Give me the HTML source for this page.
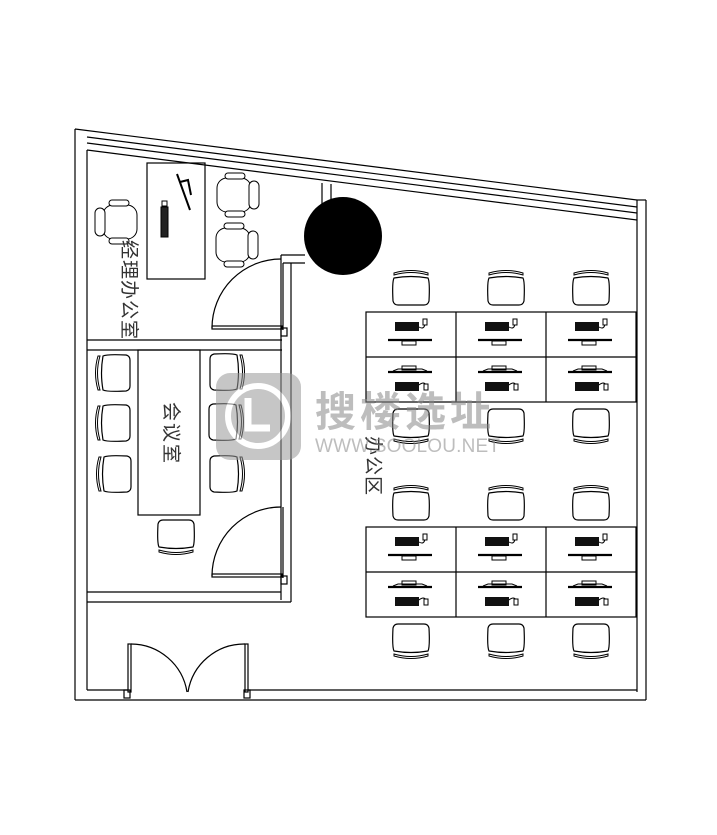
<!DOCTYPE html>
<html><head><meta charset="utf-8"><style>
html,body{margin:0;padding:0;background:#fff;}
svg{display:block;}
text{font-family:"Liberation Sans","Noto Sans CJK SC",sans-serif;}
</style></head><body>
<svg width="717" height="835" viewBox="0 0 717 835" xmlns="http://www.w3.org/2000/svg">
<defs>
<g id="chT">
<path d="M-17 -12 Q0 -15 17 -12 Q19 -8 18 11 Q17 15 13 15 L-13 15 Q-17 15 -18 11 Q-19 -8 -17 -12 Z" fill="#fff" stroke="#000" stroke-width="1.2"/>
<path d="M-17 -17 Q0 -22 17 -17 L17 -15 Q0 -20 -17 -15 Z" fill="#fff" stroke="#000" stroke-width="1"/>
</g>
<g id="chB">
<use href="#chT" transform="scale(1,-1)"/>
</g>
<g id="chL">
<use href="#chT" transform="rotate(-90)"/>
</g>
<g id="chR">
<use href="#chT" transform="rotate(90)"/>
</g>
<g id="pcA">
<rect x="-15" y="-6" width="24" height="9" fill="#111"/>
<path d="M9 -1 Q14 2 15 -4" fill="none" stroke="#000"/>
<rect x="13" y="-9" width="4" height="6" fill="#fff" stroke="#000"/>
<line x1="-22" y1="12" x2="22" y2="12" stroke="#000" stroke-width="2.2"/>
<rect x="-8" y="13" width="14" height="4" fill="#fff" stroke="#000"/>
</g>
<g id="pcB">
<rect x="-8" y="-15" width="14" height="4" fill="#fff" stroke="#000"/>
<path d="M-22 -9 L22 -9" stroke="#000" stroke-width="2.2"/>
<path d="M-17 -10 L-12 -12 L12 -12 L17 -10" fill="none" stroke="#000"/>
<rect x="-15" y="1" width="24" height="9" fill="#111"/>
<path d="M9 4 Q14 0 16 4" fill="none" stroke="#000"/>
<rect x="14" y="3" width="4" height="6" fill="#fff" stroke="#000"/>
</g>
<g id="armch">
<rect x="-20" y="-17" width="34" height="34" rx="10" fill="#fff" stroke="#000"/>
<rect x="-12" y="-22" width="20" height="6" rx="3" fill="#fff" stroke="#000"/>
<rect x="-12" y="16" width="20" height="6" rx="3" fill="#fff" stroke="#000"/>
<rect x="12" y="-14" width="10" height="28" rx="5" fill="#fff" stroke="#000"/>
</g>
</defs>
<g fill="none" stroke="#000" stroke-width="1.2">
<!-- outer walls -->
<line x1="75" y1="129" x2="75" y2="700"/>
<line x1="87" y1="150" x2="87" y2="690"/>
<line x1="75" y1="129" x2="637" y2="200"/>
<line x1="87" y1="137" x2="637" y2="207"/>
<line x1="87" y1="143" x2="637" y2="213"/>
<line x1="87" y1="150" x2="637" y2="220"/>
<line x1="637" y1="200" x2="637" y2="692"/>
<line x1="646" y1="200" x2="646" y2="700"/>
<line x1="637" y1="200" x2="646" y2="200"/>
<line x1="75" y1="700" x2="646" y2="700"/>
<line x1="87" y1="690" x2="128" y2="690"/>
<line x1="248" y1="690" x2="637" y2="690"/>
<!-- pillar stub -->
<line x1="322" y1="183" x2="322" y2="205"/>
<line x1="331" y1="184" x2="331" y2="205"/>
<!-- manager room -->
<line x1="87" y1="340" x2="282" y2="340"/>
<line x1="87" y1="350" x2="282" y2="350"/>
<line x1="281" y1="255" x2="305" y2="255"/>
<line x1="283" y1="263" x2="305" y2="263"/>
<line x1="281" y1="255" x2="281" y2="600"/>
<line x1="291" y1="263" x2="291" y2="602"/>
<line x1="283" y1="263" x2="283" y2="330"/>
<path d="M212 328 A69 69 0 0 1 281 259"/>
<rect x="212" y="326" width="70" height="3"/>
<rect x="281" y="328" width="6" height="8"/>
<rect x="147" y="163" width="58" height="116"/>
<!-- conference -->
<line x1="87" y1="592" x2="281" y2="592"/>
<line x1="87" y1="602" x2="291" y2="602"/>
<rect x="138" y="350" width="62" height="165"/>
<path d="M212 576 A69 69 0 0 1 281 507"/>
<rect x="212" y="574" width="70" height="3"/>
<line x1="283" y1="507" x2="283" y2="578"/>
<rect x="281" y="576" width="6" height="8"/>
<!-- entrance -->
<rect x="128" y="644" width="3" height="48"/>
<rect x="245" y="644" width="3" height="48"/>
<path d="M131 644 A57 57 0 0 1 187 692"/>
<path d="M245 644 A57 57 0 0 0 188 692"/>
<rect x="124" y="690" width="6" height="8"/>
<rect x="244" y="690" width="6" height="8"/>
<!-- desk clusters -->
<rect x="366" y="312" width="270" height="90"/>
<line x1="366" y1="357" x2="636" y2="357"/>
<line x1="456" y1="312" x2="456" y2="402"/>
<line x1="546" y1="312" x2="546" y2="402"/>
<rect x="366" y="527" width="270" height="90"/>
<line x1="366" y1="572" x2="636" y2="572"/>
<line x1="456" y1="527" x2="456" y2="617"/>
<line x1="546" y1="527" x2="546" y2="617"/>
</g>
<circle cx="343" cy="236" r="39" fill="#000"/>
<!-- manager furniture -->
<g transform="translate(164,213)"><rect x="-3" y="-6" width="7" height="30" fill="#222" stroke="#000"/><rect x="-2" y="-12" width="5" height="5" fill="#fff" stroke="#000"/></g>
<path d="M177 174 L190 210 M180 182 L188 180 L191 195" stroke="#000" stroke-width="2" fill="none"/>
<use href="#armch" transform="translate(117,222) rotate(180) scale(1,1)"/>
<use href="#armch" transform="translate(237,195)"/>
<use href="#armch" transform="translate(236,245)"/>
<!-- conference chairs -->
<use href="#chL" transform="translate(115,373)"/>
<use href="#chL" transform="translate(115,423)"/>
<use href="#chL" transform="translate(116,474)"/>
<use href="#chR" transform="translate(225,372)"/>
<use href="#chR" transform="translate(224,422)"/>
<use href="#chR" transform="translate(225,474)"/>
<use href="#chB" transform="translate(176,535)"/>
<!-- office chairs -->
<g>
<use href="#chT" transform="translate(411,290)"/><use href="#chT" transform="translate(506,290)"/><use href="#chT" transform="translate(591,290)"/>
<use href="#chB" transform="translate(411,424)"/><use href="#chB" transform="translate(506,424)"/><use href="#chB" transform="translate(591,424)"/>
<use href="#chT" transform="translate(411,505)"/><use href="#chT" transform="translate(506,505)"/><use href="#chT" transform="translate(591,505)"/>
<use href="#chB" transform="translate(411,639)"/><use href="#chB" transform="translate(506,639)"/><use href="#chB" transform="translate(591,639)"/>
</g>
<g>
<use href="#pcA" transform="translate(410,328)"/><use href="#pcA" transform="translate(500,328)"/><use href="#pcA" transform="translate(590,328)"/>
<use href="#pcB" transform="translate(410,381)"/><use href="#pcB" transform="translate(500,381)"/><use href="#pcB" transform="translate(590,381)"/>
<use href="#pcA" transform="translate(410,543)"/><use href="#pcA" transform="translate(500,543)"/><use href="#pcA" transform="translate(590,543)"/>
<use href="#pcB" transform="translate(410,596)"/><use href="#pcB" transform="translate(500,596)"/><use href="#pcB" transform="translate(590,596)"/>
</g>
<!-- labels -->
<text transform="translate(123,240) rotate(90)" font-size="19" fill="#333" letter-spacing="1">经理办公室</text>
<text transform="translate(165,402) rotate(90)" font-size="19" fill="#333" letter-spacing="2">会议室</text>
<text transform="translate(367,436) rotate(90)" font-size="19" fill="#333" letter-spacing="1">办公区</text>
<!-- watermark -->
<g opacity="0.55">
<rect x="216" y="373" width="85" height="87" rx="14" fill="#999"/>
<circle cx="258" cy="416" r="30" fill="none" stroke="#fff" stroke-width="6"/>
<path d="M248 398 L248 428 L270 428" fill="none" stroke="#fff" stroke-width="7"/>
<text x="315" y="426" font-size="41" font-weight="bold" fill="#888" letter-spacing="4">搜楼选址</text>
<text x="315" y="452" font-size="19" fill="#888" textLength="185">WWW.SOOLOU.NET</text>
</g>
</svg>
</body></html>
